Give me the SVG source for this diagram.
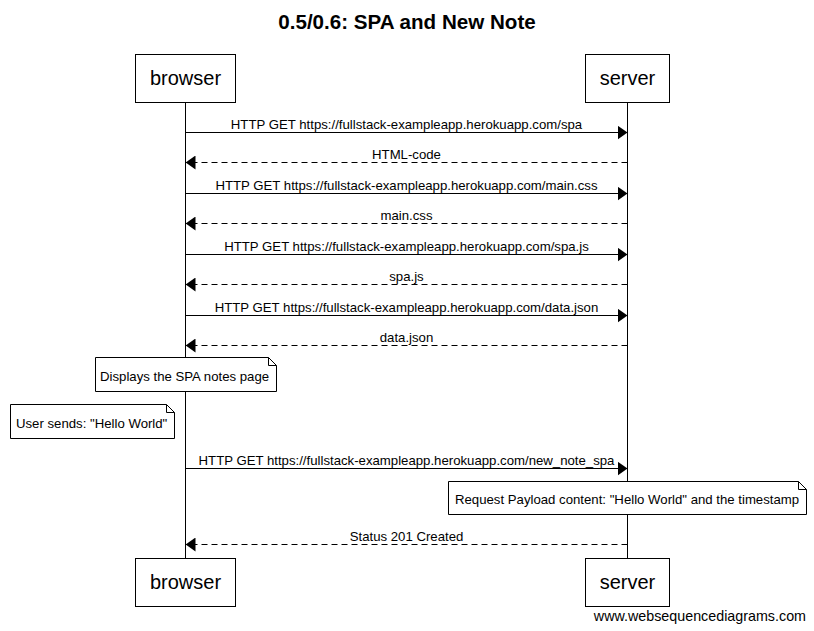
<svg xmlns="http://www.w3.org/2000/svg" width="814" height="631" viewBox="0 0 814 631">
<style>
text{font-family:"Liberation Sans",Arial,sans-serif;fill:#000}
.title{font-size:20.6px;font-weight:bold;text-anchor:middle}
.actor rect{fill:#fff;stroke:#000;stroke-width:1}
.actor text{font-size:20px;text-anchor:middle}
.life{stroke:#000;stroke-width:1}
.msg{stroke:#000;stroke-width:1;fill:none}
.dash{stroke-dasharray:6,4}
.lbl{font-size:13.2px;text-anchor:middle}
.note path{fill:#fff;stroke:#000;stroke-width:1}
.note text{font-size:13.2px}
.foot{font-size:14.3px;text-anchor:end}
</style>
<defs>
<marker id="ah" viewBox="0 0 10 14" refX="10" refY="7" markerWidth="10" markerHeight="14" markerUnits="userSpaceOnUse" orient="auto">
<path d="M0,0 L10,7 L0,14 Z" fill="#000"/>
</marker>
</defs>
<rect width="814" height="631" fill="#fff"/>
<text class="title" x="407" y="29">0.5/0.6: SPA and New Note</text>
<g id="lifelines">
<line class="life" x1="185.5" y1="102" x2="185.5" y2="558"/>
<line class="life" x1="627.5" y1="102" x2="627.5" y2="558"/>
</g>
<g id="browser-top" class="actor"><rect x="135.5" y="54.5" width="100" height="48"/><text x="185.5" y="85">browser</text></g>
<g id="server-top" class="actor"><rect x="585.5" y="54.5" width="84" height="48"/><text x="627.5" y="85">server</text></g>
<g id="browser-bottom" class="actor"><rect x="135.5" y="558.5" width="100" height="48"/><text x="185.5" y="589">browser</text></g>
<g id="server-bottom" class="actor"><rect x="585.5" y="558.5" width="84" height="48"/><text x="627.5" y="589">server</text></g>
<g id="connectors">
<line class="msg" x1="185.5" y1="132.5" x2="627.5" y2="132.5" marker-end="url(#ah)"/>
<text class="lbl" x="406.5" y="129">HTTP GET https://fullstack-exampleapp.herokuapp.com/spa</text>
<line class="msg dash" x1="627.5" y1="162.5" x2="185.5" y2="162.5" marker-end="url(#ah)"/>
<text class="lbl" x="406.5" y="159">HTML-code</text>
<line class="msg" x1="185.5" y1="193.5" x2="627.5" y2="193.5" marker-end="url(#ah)"/>
<text class="lbl" x="406.5" y="190">HTTP GET https://fullstack-exampleapp.herokuapp.com/main.css</text>
<line class="msg dash" x1="627.5" y1="223.5" x2="185.5" y2="223.5" marker-end="url(#ah)"/>
<text class="lbl" x="406.5" y="220">main.css</text>
<line class="msg" x1="185.5" y1="254.5" x2="627.5" y2="254.5" marker-end="url(#ah)"/>
<text class="lbl" x="406.5" y="251">HTTP GET https://fullstack-exampleapp.herokuapp.com/spa.js</text>
<line class="msg dash" x1="627.5" y1="284.5" x2="185.5" y2="284.5" marker-end="url(#ah)"/>
<text class="lbl" x="406.5" y="281">spa.js</text>
<line class="msg" x1="185.5" y1="315.5" x2="627.5" y2="315.5" marker-end="url(#ah)"/>
<text class="lbl" x="406.5" y="312">HTTP GET https://fullstack-exampleapp.herokuapp.com/data.json</text>
<line class="msg dash" x1="627.5" y1="345.5" x2="185.5" y2="345.5" marker-end="url(#ah)"/>
<text class="lbl" x="406.5" y="342">data.json</text>
<line class="msg" x1="185.5" y1="468.5" x2="627.5" y2="468.5" marker-end="url(#ah)"/>
<text class="lbl" x="406.5" y="465">HTTP GET https://fullstack-exampleapp.herokuapp.com/new_note_spa</text>
<line class="msg dash" x1="627.5" y1="544.5" x2="185.5" y2="544.5" marker-end="url(#ah)"/>
<text class="lbl" x="406.5" y="541">Status 201 Created</text>
</g>
<g id="note-spa" class="note">
<path d="M95.5,357.5 H268.5 L276.5,365.5 V391.5 H95.5 Z M268.5,357.5 V365.5 H276.5"/>
<text x="100" y="381">Displays the SPA notes page</text>
</g>
<g id="note-user" class="note">
<path d="M10.5,404.5 H166.5 L174.5,412.5 V438.5 H10.5 Z M166.5,404.5 V412.5 H174.5"/>
<text x="16" y="428">User sends: "Hello World"</text>
</g>
<g id="note-payload" class="note">
<path d="M448.5,481.5 H798.5 L806.5,489.5 V514.5 H448.5 Z M798.5,481.5 V489.5 H806.5"/>
<text x="455" y="504">Request Payload content: "Hello World" and the timestamp</text>
</g>
<text class="foot" x="806" y="621">www.websequencediagrams.com</text>
</svg>
